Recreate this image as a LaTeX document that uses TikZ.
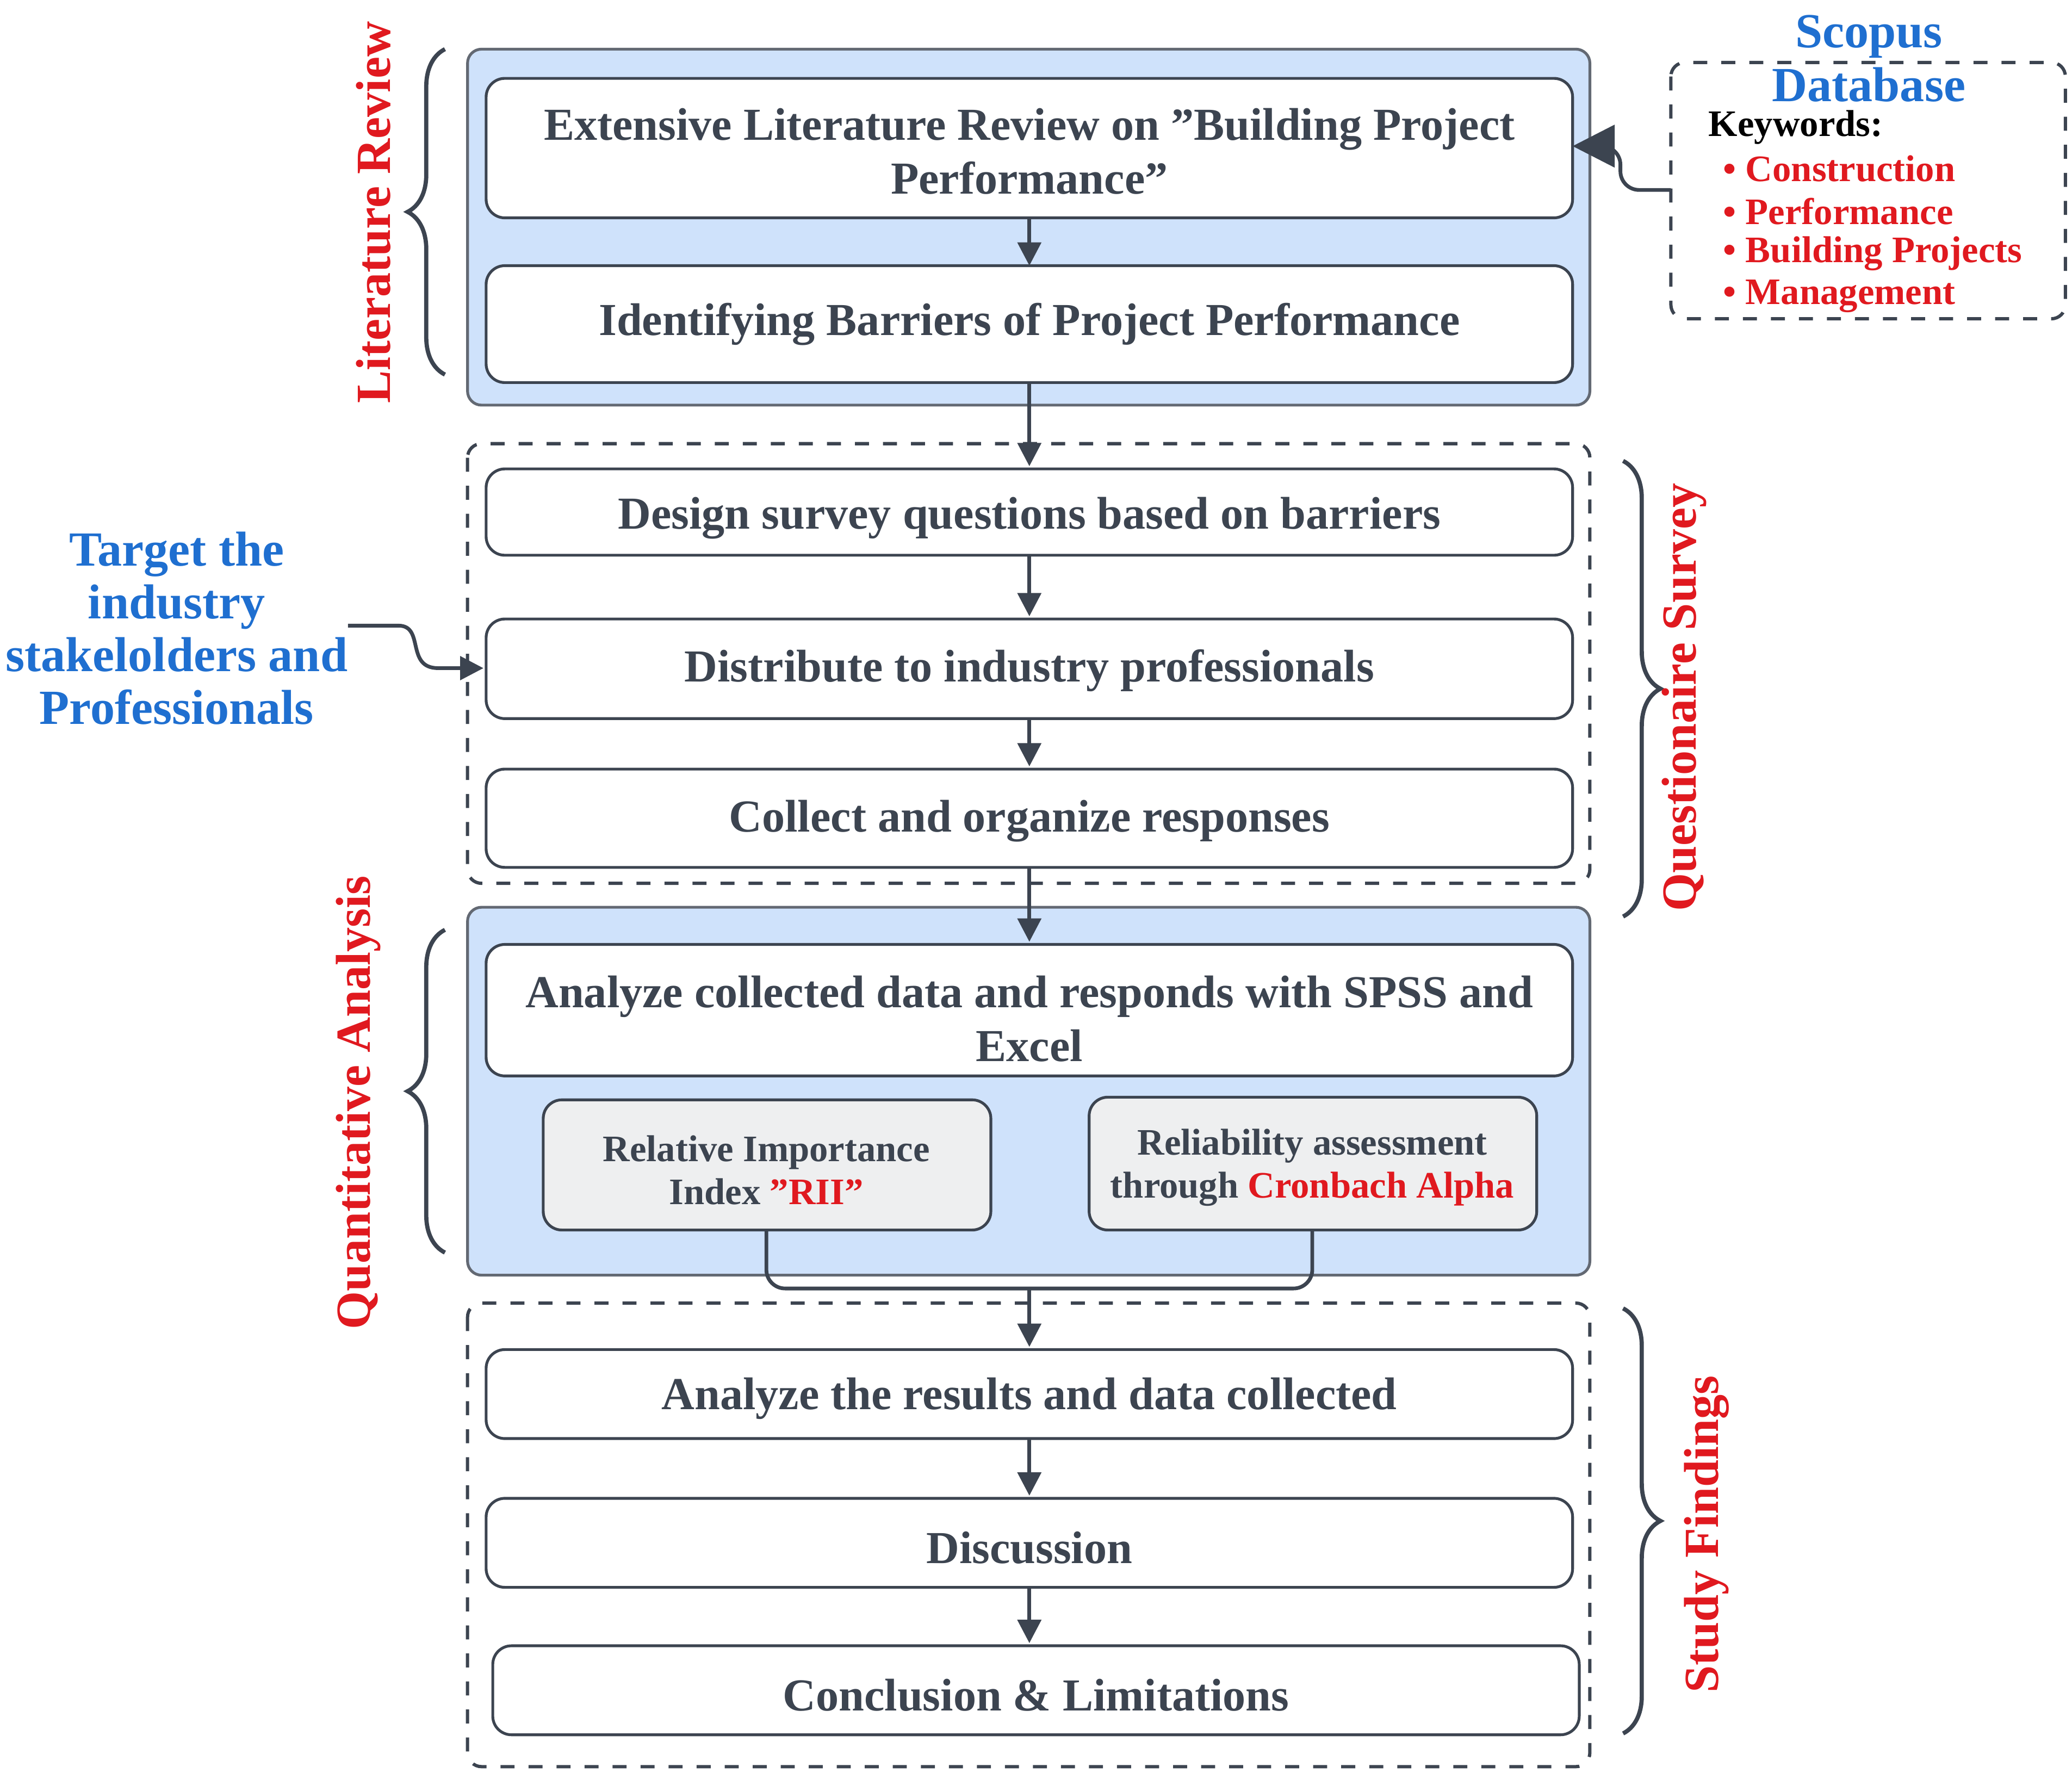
\documentclass[tikz,border=0pt]{standalone}
\usepackage{fontspec}
\setmainfont{Liberation Serif}
\usetikzlibrary{decorations.pathreplacing,arrows.meta}
\definecolor{dk}{HTML}{3C4450}
\definecolor{rd}{HTML}{E0191F}
\definecolor{bl}{HTML}{1F6FD0}
\definecolor{lb}{HTML}{CFE2FB}
\definecolor{gy}{HTML}{EEEFF0}
\newcommand{\dq}{\symbol{34}}
\begin{document}
\begin{tikzpicture}[x=0.01cm,y=-0.01cm,
 big/.style={draw=dk!80,fill=lb,rounded corners=3pt,line width=0.6pt},
 dbox/.style={draw=dk,dashed,rounded corners=3pt,line width=0.7pt},
 box/.style={draw=dk,fill=white,rounded corners=4pt,line width=0.6pt},
 sbox/.style={draw=dk,fill=gy,rounded corners=4pt,line width=0.6pt},
 tx/.style={font=\fontsize{9.8}{11.5}\selectfont\bfseries,text=dk,align=center},
 stx/.style={font=\fontsize{8}{9.2}\selectfont\bfseries,text=dk,align=center},
 arr/.style={-{Triangle[length=5pt,width=5pt]},draw=dk,line width=0.8pt},
 br/.style={decorate,decoration={brace,amplitude=8pt},draw=dk,line width=0.9pt},
 lab/.style={font=\fontsize{10.5}{12}\selectfont\bfseries,text=rd}]
\useasboundingbox (0,0) rectangle (1560,1339);
% Literature review
\draw[big] (352,37) rectangle (1197,305);
\draw[box] (366,59) rectangle (1184,164);
\node[tx] (b1) at (775,114) {Extensive Literature Review on \dq Building Project\\Performance\dq};
\draw[box] (366,200) rectangle (1184,288);
\node[tx] (b2) at (775,244) {Identifying Barriers of Project Performance};
\coordinate (b1b) at (775,164); \coordinate (b2t) at (775,200);
\draw[arr] (b1b) -- (b2t);
% Scopus
\draw[dbox] (1258,47) rectangle (1555,240);
\node[font=\fontsize{10.5}{11.5}\selectfont\bfseries,text=bl,align=center] (sc) at (1407,44) {Scopus\\Database};
\node[stx,anchor=west,text=black] (kw) at (1274,96) {Keywords:};
\foreach \y/\t in {127/Construction,159/Performance,191/Building Projects,223/Management}
  \node[stx,anchor=west,text=rd] at (1285,\y) {•\ \t};
\coordinate (s1) at (1258,143); \coordinate (b1r) at (1184,110);
\draw[arr,-{Triangle[length=9pt,width=9pt]},rounded corners=4pt] (s1) -- (1220,143) -- (1220,110) -- (b1r);
% Questionnaire
\draw[dbox] (352,334) rectangle (1197,665);
\draw[box] (366,353) rectangle (1184,418);
\node[tx] (q1) at (775,390) {Design survey questions based on barriers};
\draw[box] (366,466) rectangle (1184,541);
\node[tx] (q2) at (775,505) {Distribute to industry professionals};
\draw[box] (366,579) rectangle (1184,653);
\node[tx] (q3) at (775,618) {Collect and organize responses};
\draw[arr] (775,288) -- (775,351);
\draw[arr] (775,418) -- (775,464);
\draw[arr] (775,541) -- (775,577);
\node[font=\fontsize{10.5}{11.3}\selectfont\bfseries,text=bl,align=center] (tg) at (133,473) {Target the\\industry\\stakelolders and\\Professionals};
\draw[arr] (262,471) -- (300,471) .. controls (320,471) and (305,503) .. (330,503) -- (364,503);
% Quantitative
\draw[big] (352,683) rectangle (1197,960);
\draw[arr] (775,653) -- (775,709);
\draw[box] (366,711) rectangle (1184,810);
\node[tx] (a1) at (775,767) {Analyze collected data and responds with SPSS and\\Excel};
\draw[sbox] (409,828) rectangle (746,926);
\node[stx] (r1) at (577,881) {Relative Importance\\Index \textcolor{rd}{\dq RII\dq}};
\draw[sbox] (820,826) rectangle (1157,926);
\node[stx] (r2) at (988,879) {Reliability assessment\\through \textcolor{rd}{Cronbach Alpha}};
\draw[draw=dk,line width=0.8pt,rounded corners=4pt] (577,926) -- (577,970) -- (775,970);
\draw[draw=dk,line width=0.8pt,rounded corners=4pt] (988,926) -- (988,970) -- (775,970);
\draw[arr] (775,970) -- (775,1014);
% Findings
\draw[dbox] (352,981) rectangle (1197,1330);
\draw[box] (366,1016) rectangle (1184,1083);
\node[tx] (f1) at (775,1053) {Analyze the results and data collected};
\draw[box] (366,1128) rectangle (1184,1195);
\node[tx] (f2) at (775,1165) {Discussion};
\draw[box] (371,1239) rectangle (1189,1306);
\node[tx] (f3) at (780,1276) {Conclusion \& Limitations};
\draw[arr] (775,1083) -- (775,1126);
\draw[arr] (775,1195) -- (775,1237);
% braces and labels
\draw[br] (335,282) -- (335,37);
\node[lab,rotate=90] at (281,160) {Literature Review};
\draw[br] (1222,347) -- (1222,690);
\node[lab,rotate=90] at (1268,525) {Questionaire Survey};
\draw[br] (335,943) -- (335,700);
\node[lab,rotate=90] at (270,830) {Quantitative Analysis};
\draw[br] (1222,985) -- (1222,1305);
\node[lab,rotate=90] at (1285,1155) {Study Findings};
\end{tikzpicture}
\end{document}
